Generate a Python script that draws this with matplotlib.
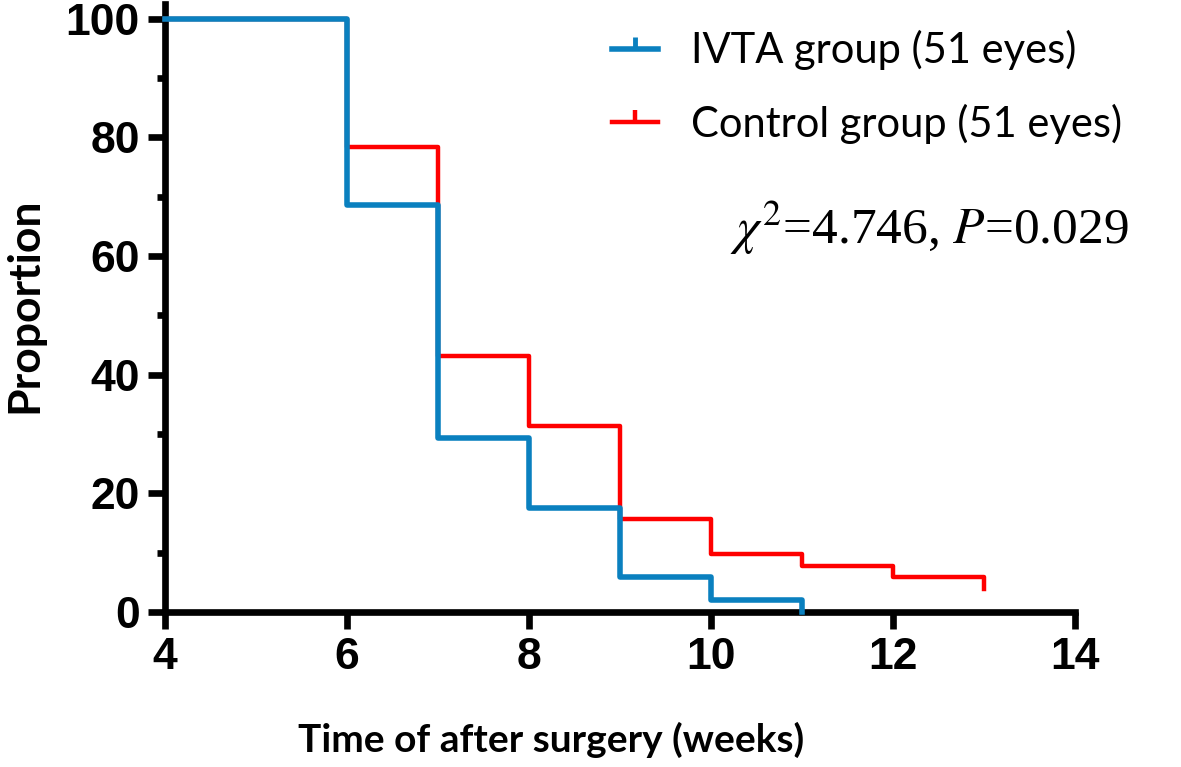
import matplotlib
matplotlib.use("Agg")
import matplotlib.pyplot as plt
from matplotlib.lines import Line2D

# Kaplan-Meier style data (percent remaining)
ivta_weeks = [4, 6, 7, 8, 9, 10, 11]
ivta_pct = [100, 68.6, 29.4, 17.6, 5.9, 2.0, 0]
control_weeks = [4, 6, 7, 8, 9, 10, 11, 12, 13]
control_pct = [100, 78.4, 43.1, 31.4, 15.7, 9.8, 7.8, 5.9, 3.9]

labels = ["IVTA group (51 eyes)", "Control group (51 eyes)"]
x_ticks = [4, 6, 8, 10, 12, 14]
y_ticks = [0, 20, 40, 60, 80, 100]

blue = "#0A80BF"
red = "#FF0000"

plt.rcParams["mathtext.fontset"] = "stix"

fig = plt.figure(figsize=(11.81, 7.67), dpi=100)
ax = fig.add_axes([165 / 1181, 1 - 612 / 767, 910 / 1181, 608 / 767])

ax.step(control_weeks, control_pct, where="post", color=red, lw=3.2, clip_on=False, zorder=3)
ax.step(ivta_weeks, ivta_pct, where="post", color=blue, lw=4.0, clip_on=False, zorder=4)

ax.set_xlim(4, 14)
ax.set_ylim(0, 102.5)
ax.set_xticks(x_ticks)
ax.set_yticks(y_ticks)
ax.set_yticks([10, 30, 50, 70, 90], minor=True)

for s in ["top", "right"]:
    ax.spines[s].set_visible(False)
for s in ["left", "bottom"]:
    ax.spines[s].set_linewidth(4.8)
    ax.spines[s].set_capstyle("projecting")

ax.tick_params(which="major", length=12, width=4.8, direction="out", pad=6)
ax.tick_params(which="minor", length=6, width=4.8, direction="out")
for lab in ax.get_xticklabels() + ax.get_yticklabels():
    lab.set_family("Liberation Sans")
    lab.set_fontweight("bold")
    lab.set_fontsize(32)

ax.set_xlabel("Time of after surgery (weeks)", family="Lato", fontweight="bold", fontsize=28)
ax.set_ylabel("Proportion", family="Lato", fontweight="bold", fontsize=32)
ax.xaxis.label.set_va("center")
ax.yaxis.label.set_va("center")
ax.xaxis.set_label_coords(0.424, -0.21)
ax.yaxis.set_label_coords(-0.154, 0.505)

tick_up = [(0, 0), (0, 1)]
handles = [
    Line2D([], [], color=blue, lw=4.0, marker=tick_up, markersize=18, markeredgewidth=3.5),
    Line2D([], [], color=red, lw=3.2, marker=tick_up, markersize=18, markeredgewidth=3.2),
]
ax.legend(handles, labels, loc="upper left", bbox_to_anchor=(612 / 1181, 1 - 30 / 767),
          bbox_transform=fig.transFigure, frameon=False, numpoints=1,
          prop={"family": "Lato", "size": 30}, handlelength=1.1,
          handletextpad=0.8, labelspacing=0.8, borderpad=0, borderaxespad=0)

fig.text(730 / 1181, 1 - 228 / 767, r"$\chi^2$=4.746, $P$=0.029", family="Liberation Serif",
         fontsize=37, va="center", ha="left")

fig.savefig("out.png", dpi=100)
